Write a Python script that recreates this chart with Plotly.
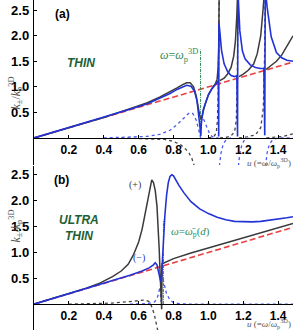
import plotly.graph_objects as go

N = None
# ---------------- Panel (a) THIN ----------------
a_line_u = [0, 1.5]
a_line_k = [0, 1.5]

a_blue_u = [0, 0.2, 0.4, 0.55, 0.65, 0.72, 0.78, 0.82, 0.85, 0.875, 0.9, 0.92, 0.935, 0.945, 0.952, 0.956,
            0.96, 0.97, 0.985, 1.0, 1.02, 1.04, 1.052, 1.057, 1.059, 1.0605, 1.065, 1.075, 1.09, 1.11, 1.13,
            1.15, 1.163, 1.167, 1.169, 1.172, 1.18, 1.195, 1.21, 1.24, 1.27, 1.3, 1.318, 1.323, 1.326,
            1.337, 1.36, 1.39, 1.42, 1.45, 1.485]
a_blue_k = [0, 0.2, 0.4, 0.56, 0.67, 0.77, 0.87, 0.95, 1.0, 1.03, 1.01, 0.92, 0.72, 0.47, 0.2, 0.04,
            0.3, 0.55, 0.72, 0.84, 0.96, 1.05, 1.1, 1.12, 0.03, 2.25, 2.1, 1.72, 1.45, 1.3, 1.22,
            1.2, 1.22, 0.03, 2.9, 2.6, 2.1, 1.7, 1.55, 1.43, 1.38, 1.36, 1.36, 0.05, 2.9,
            2.55, 1.98, 1.67, 1.57, 1.52, 1.5]

a_black_u = [0, 0.2, 0.4, 0.55, 0.65, 0.72, 0.78, 0.82, 0.85, 0.875, 0.895, 0.915, 0.93, 0.94, 0.95, 0.957,
             0.965, 0.98, 1.0, 1.02, 1.04, 1.05, 1.055, 1.059, 1.062, N,
             1.065, 1.09, 1.11, 1.13, 1.145, 1.155, 1.163, 1.168, N,
             1.175, 1.2, 1.23, 1.26, 1.28, 1.3, 1.313, 1.322, N,
             1.33, 1.36, 1.39, 1.42, 1.45, 1.485]
a_black_k = [0, 0.2, 0.4, 0.57, 0.69, 0.8, 0.9, 0.98, 1.04, 1.08, 1.08, 1.0, 0.82, 0.62, 0.44, 0.37,
             0.45, 0.65, 0.85, 0.97, 1.06, 1.15, 1.35, 1.8, 2.9, N,
             1.12, 1.17, 1.25, 1.38, 1.6, 1.9, 2.4, 2.9, N,
             1.2, 1.25, 1.33, 1.45, 1.65, 2.0, 2.5, 2.9, N,
             1.34, 1.42, 1.5, 1.62, 1.8, 2.0]

a_bdot_u = [0.4, 0.55, 0.65, 0.72, 0.78, 0.82, 0.86, 0.89, 0.91, 0.93, 0.945, 0.955, 0.96, 0.975, 0.99,
            1.005, 1.02, 1.035, 1.058, N,
            1.063, 1.072, 1.085, 1.105, 1.13, N,
            1.172, 1.18, 1.193, 1.21, 1.24, N,
            1.328, 1.336, 1.35, 1.37, 1.4, 1.485]
a_bdot_k = [0.0, 0.01, 0.03, 0.07, 0.15, 0.26, 0.4, 0.49, 0.48, 0.35, 0.15, 0.0, 0.38, 0.35, 0.22,
            0.1, 0.03, 0.0, 0.0, N,
            -0.55, -0.3, -0.12, -0.02, 0.0, N,
            -0.55, -0.3, -0.12, -0.02, 0.0, N,
            -0.55, -0.3, -0.12, -0.03, 0.0, 0.0]

a_kdot_u = [0.5, 0.65, 0.75, 0.8, 0.84, 0.87, 0.89, 0.905, 0.92, N,
            1.0, 1.03, 1.045, 1.052, 1.057, 1.06, 1.062, N,
            1.066, 1.1, 1.13, 1.15, 1.16, 1.166, 1.17, N,
            1.175, 1.22, 1.27, 1.3, 1.315, 1.322, 1.326, N,
            1.332, 1.38, 1.43, 1.485]
a_kdot_k = [0.0, -0.01, -0.03, -0.07, -0.13, -0.22, -0.3, -0.4, -0.56, N,
            0.0, 0.02, 0.1, 0.35, 1.0, 2.0, 2.9, N,
            0.0, 0.01, 0.04, 0.12, 0.35, 1.2, 2.9, N,
            0.0, 0.02, 0.06, 0.2, 0.6, 1.6, 2.9, N,
            0.0, 0.01, 0.03, 0.08]

a_green_u = [0.955, 0.955]
a_green_k = [0, 1.73]

# ---------------- Panel (b) ULTRA THIN ----------------
b_line_u = [0, 1.5]
b_line_k = [0, 1.5]

b_black_u = [0, 0.1, 0.2, 0.3, 0.38, 0.45, 0.5, 0.54, 0.57, 0.6, 0.62, 0.64, 0.655, 0.665, 0.675, 0.685,
             0.695, 0.705, 0.712, 0.718, 0.723, 0.728, 0.732, 0.734, 0.76, 0.8, 0.9, 1.0, 1.1, 1.2,
             1.3, 1.4, 1.485]
b_black_k = [0, 0.1, 0.2, 0.31, 0.41, 0.53, 0.64, 0.77, 0.95, 1.2, 1.45, 1.8, 2.1, 2.3, 2.4, 2.35,
             2.2, 1.9, 1.5, 1.05, 0.6, 0.15, -0.1, 0.78, 0.82, 0.88, 0.99, 1.09, 1.19, 1.29,
             1.38, 1.48, 1.56]

b_blue_u = [0, 0.2, 0.4, 0.55, 0.62, 0.66, 0.685, 0.695, 0.705, 0.715, 0.722, 0.727, 0.731, 0.735, 0.74,
            0.75, 0.76, 0.77, 0.78, 0.79, 0.8, 0.81, 0.83, 0.86, 0.9, 0.95, 1.0, 1.05, 1.1, 1.15, 1.2,
            1.25, 1.3, 1.35, 1.4, 1.45, 1.485]
b_blue_k = [0, 0.2, 0.4, 0.56, 0.64, 0.7, 0.76, 0.8, 0.76, 0.62, 0.5, 0.43, 0.5, 0.8, 1.2,
            1.7, 2.1, 2.35, 2.47, 2.5, 2.48, 2.42, 2.3, 2.15, 1.98, 1.84, 1.75, 1.68, 1.63, 1.6, 1.59,
            1.59, 1.6, 1.62, 1.64, 1.67, 1.69]

b_bdot_u = [0.55, 0.65, 0.69, 0.705, 0.715, 0.722, 0.728, 0.732, 0.74, 0.75, 0.76, 0.78, 0.8, 0.83, 0.9, 1.485]
b_bdot_k = [0.0, 0.01, 0.04, 0.1, 0.22, 0.33, 0.05, 0.6, 0.48, 0.33, 0.2, 0.08, 0.03, 0.01, 0.0, 0.0]

b_kdot_u = [0.2, 0.35, 0.45, 0.55, 0.6, 0.635, 0.66, 0.675, 0.69, 0.7, 0.712]
b_kdot_k = [0.0, 0.01, 0.02, 0.05, 0.07, 0.08, 0.05, -0.05, -0.2, -0.33, -0.55]

b_green_u = [0.742, 0.742]
b_green_k = [0, 1.63]

x_ticks = [0.2, 0.4, 0.6, 0.8, 1.0, 1.2, 1.4]
x_ticktext = ["0.2", "0.4", "0.6", "0.8", "1.0", "1.2", "1.4"]
y_ticks = [0.5, 1.0, 1.5, 2.0, 2.5]
y_ticktext = ["0.5", "1.0", "1.5", "2.0", "2.5"]

# ---------------- styles ----------------
RED = "#ec4040"
BLUE = "#2233d6"
BLUE_DOT = "#4a5af0"
BLACK = "#3a3a3a"
GREEN = "#2e8b57"
DKGREEN = "#1d5e33"

fig = go.Figure()


def add_panel(xa, ya, line, kdot, bdot, black, blue, green):
    common = dict(xaxis=xa, yaxis=ya, mode="lines", showlegend=False, hoverinfo="skip")
    fig.add_trace(go.Scatter(x=line[0], y=line[1], line=dict(color=RED, width=1.6, dash="6px,3px"), **common))
    fig.add_trace(go.Scatter(x=green[0], y=green[1], line=dict(color=GREEN, width=1, dash="3px,1px,1px,1px"), **common))
    fig.add_trace(go.Scatter(x=kdot[0], y=kdot[1], line=dict(color="#444444", width=1.3, dash="dot"), **common))
    fig.add_trace(go.Scatter(x=bdot[0], y=bdot[1], line=dict(color=BLUE_DOT, width=1.3, dash="dot"), **common))
    fig.add_trace(go.Scatter(x=black[0], y=black[1], line=dict(color=BLACK, width=1.5), **common))
    fig.add_trace(go.Scatter(x=blue[0], y=blue[1], line=dict(color=BLUE, width=1.6), **common))


add_panel("x", "y", (a_line_u, a_line_k), (a_kdot_u, a_kdot_k), (a_bdot_u, a_bdot_k),
          (a_black_u, a_black_k), (a_blue_u, a_blue_k), (a_green_u, a_green_k))
add_panel("x2", "y2", (b_line_u, b_line_k), (b_kdot_u, b_kdot_k), (b_bdot_u, b_bdot_k),
          (b_black_u, b_black_k), (b_blue_u, b_blue_k), (b_green_u, b_green_k))

A_DOM = [0.503, 1.0]
A_RNG = [-0.53, 2.7]
B_DOM = [0.006, 0.5]
B_RNG = [-0.5, 2.67]


def zero_pos(dom, rng):
    return dom[0] + (0 - rng[0]) / (rng[1] - rng[0]) * (dom[1] - dom[0])


tickfont = dict(family="Liberation Sans, Arial, sans-serif", size=12, color="black", weight="bold")
ytickfont = dict(family="Liberation Sans, Arial, sans-serif", size=13, color="black", weight="bold")
xcommon = dict(range=[0, 1.485], tickvals=x_ticks, ticktext=x_ticktext, showgrid=False, zeroline=False,
               showline=True, linecolor="black", linewidth=1.4, ticks="inside", ticklen=3,
               tickcolor="black", tickfont=tickfont, anchor="free")
ycommon = dict(tickvals=y_ticks, ticktext=y_ticktext, showgrid=False, zeroline=False, showline=True,
               linecolor="black", linewidth=1.4, ticks="inside", ticklen=3, tickcolor="black",
               tickfont=ytickfont, ticklabelstandoff=1)

fig.update_layout(
    width=294, height=332,
    margin=dict(l=34, r=1, t=0, b=0),
    paper_bgcolor="white", plot_bgcolor="white",
    xaxis=dict(domain=[0, 1], position=zero_pos(A_DOM, A_RNG), **xcommon),
    yaxis=dict(domain=A_DOM, range=A_RNG, anchor="x", **ycommon),
    xaxis2=dict(domain=[0, 1], position=zero_pos(B_DOM, B_RNG), **xcommon),
    yaxis2=dict(domain=B_DOM, range=B_RNG, anchor="x2", **ycommon),
)

serif = "Liberation Serif, Times New Roman, serif"
sans = "Liberation Sans, Arial, sans-serif"
xtitle = "<i>u</i> (=<i>ω</i>/<i>ω</i><sub>p</sub><sup>3D</sup>)"
ytitle = "<i>k</i><sub>±</sub>/<i>k</i><sub>p</sub><sup>3D</sup>"
ann = [
    dict(xref="x", yref="y", x=0.165, y=2.42, text="<b>(a)</b>", font=dict(family=sans, size=12, color="black")),
    dict(xref="x2", yref="y2", x=0.16, y=2.4, text="<b>(b)</b>", font=dict(family=sans, size=12, color="black")),
    dict(xref="x", yref="y", x=0.27, y=1.47, text="<b><i>THIN</i></b>", font=dict(family=sans, size=12, color=DKGREEN)),
    dict(xref="x2", yref="y2", x=0.26, y=1.48, text="<b><i>ULTRA<br>THIN</i></b>",
         font=dict(family=sans, size=12, color=DKGREEN)),
    dict(xref="x", yref="y", x=0.95, y=1.62, xanchor="right",
         text="<i>ω</i>=<i>ω</i><sub>p</sub><sup>3D</sup>", font=dict(family=serif, size=12, color=GREEN)),
    dict(xref="x2", yref="y2", x=0.775, y=1.4, xanchor="left",
         text="<i>ω</i>=<i>ω\u0304</i><sub>p</sub>(<i>d</i>)", font=dict(family=serif, size=11, color=GREEN)),
    dict(xref="x2", yref="y2", x=0.58, y=2.3, text="(+)", font=dict(family=serif, size=10, color=BLACK)),
    dict(xref="x2", yref="y2", x=0.6, y=0.9, text="(−)", font=dict(family=serif, size=10, color=BLUE)),
    dict(xref="x", yref="paper", x=1.485, y=0.484, xanchor="right", yanchor="bottom",
         text=xtitle, font=dict(family=serif, size=9, color="#555555")),
    dict(xref="x2", yref="paper", x=1.485, y=0.0005, xanchor="right", yanchor="bottom",
         text=xtitle, font=dict(family=serif, size=9, color="#555555")),
    dict(xref="paper", yref="paper", x=-0.11, y=0.774, textangle=-90,
         text=ytitle, font=dict(family=serif, size=12, color="#555555")),
    dict(xref="paper", yref="paper", x=-0.11, y=0.262, textangle=-90,
         text=ytitle, font=dict(family=serif, size=12, color="#555555")),
]
for a in ann:
    a.setdefault("showarrow", False)
fig.update_layout(annotations=ann)

fig.write_html("out.html", config={"displayModeBar": False},
               post_script="document.body.style.margin='0';")
